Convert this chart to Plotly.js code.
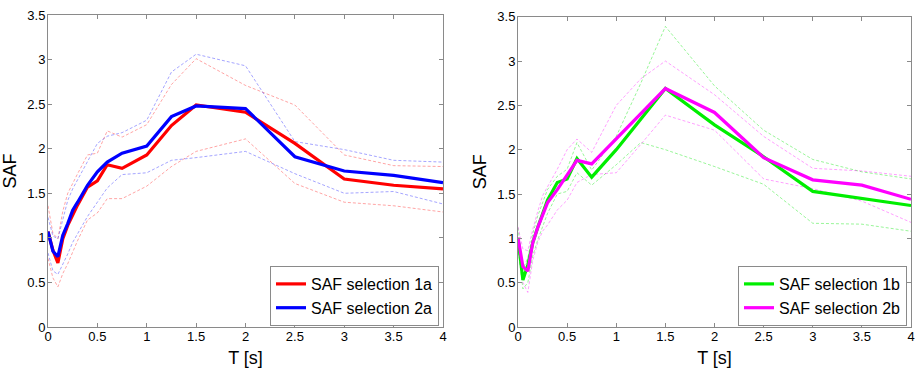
<!DOCTYPE html>
<html>
<head>
<meta charset="utf-8">
<script src="https://cdn.plot.ly/plotly-3.0.1.min.js"></script>
<style>
html,body{margin:0;padding:0;background:#fff;}
#chart{width:916px;height:371px;}
</style>
</head>
<body>
<div id="chart"></div>
<script>
// Periods T [s]
const periods = [0, 0.05, 0.1, 0.15, 0.2, 0.25, 0.3, 0.4, 0.5, 0.6, 0.75, 1, 1.25, 1.5, 2, 2.5, 3, 3.5, 4];

// Left panel
const saf1a      = [1.07, 0.86, 0.72, 0.99, 1.14, 1.25, 1.37, 1.57, 1.64, 1.82, 1.78, 1.93, 2.26, 2.49, 2.41, 2.06, 1.66, 1.59, 1.55];
const saf1aUpper = [1.36, 1.05, 0.99, 1.30, 1.50, 1.62, 1.72, 1.93, 1.95, 2.20, 2.13, 2.27, 2.72, 3.01, 2.71, 2.49, 1.93, 1.81, 1.80];
const saf1aLower = [0.77, 0.55, 0.45, 0.60, 0.71, 0.85, 0.97, 1.20, 1.28, 1.44, 1.44, 1.58, 1.80, 1.97, 2.11, 1.61, 1.40, 1.36, 1.29];
const saf2a      = [1.07, 0.85, 0.79, 1.03, 1.16, 1.31, 1.40, 1.59, 1.74, 1.85, 1.95, 2.03, 2.36, 2.48, 2.45, 1.91, 1.75, 1.70, 1.62];
const saf2aUpper = [1.23, 1.02, 0.99, 1.22, 1.42, 1.55, 1.65, 1.85, 2.06, 2.14, 2.18, 2.32, 2.86, 3.06, 2.93, 2.08, 1.99, 1.87, 1.85];
const saf2aLower = [0.83, 0.63, 0.59, 0.70, 0.82, 0.95, 1.05, 1.24, 1.40, 1.56, 1.71, 1.73, 1.87, 1.90, 1.97, 1.72, 1.50, 1.52, 1.38];

// Right panel
const saf1b      = [1.00, 0.53, 0.70, 0.95, 1.12, 1.28, 1.43, 1.63, 1.67, 1.90, 1.69, 2.00, 2.35, 2.69, 2.28, 1.92, 1.53, 1.45, 1.37];
const saf1bUpper = [1.12, 0.65, 0.78, 1.05, 1.25, 1.40, 1.55, 1.70, 1.78, 2.08, 1.77, 2.15, 2.75, 3.39, 2.72, 2.22, 1.89, 1.75, 1.67];
const saf1bLower = [0.90, 0.43, 0.50, 0.80, 0.98, 1.12, 1.28, 1.50, 1.53, 1.74, 1.60, 1.83, 2.08, 2.00, 1.81, 1.61, 1.17, 1.16, 1.08];
const saf2b      = [1.01, 0.68, 0.63, 0.95, 1.12, 1.27, 1.40, 1.55, 1.72, 1.88, 1.84, 2.12, 2.41, 2.69, 2.42, 1.91, 1.66, 1.60, 1.44];
const saf2bUpper = [1.13, 0.88, 0.86, 1.10, 1.30, 1.48, 1.58, 1.78, 2.00, 2.12, 1.97, 2.50, 2.80, 3.00, 2.62, 2.15, 1.79, 1.76, 1.70];
const saf2bLower = [0.90, 0.50, 0.39, 0.75, 0.95, 1.08, 1.15, 1.32, 1.43, 1.63, 1.72, 1.74, 2.06, 2.39, 2.22, 1.67, 1.56, 1.42, 1.18];

const names = ['SAF selection 1a', 'SAF selection 2a', 'SAF selection 1b', 'SAF selection 2b'];

function band(y, color, xa, ya) {
  return {x: periods, y: y, xaxis: xa, yaxis: ya, type: 'scatter', mode: 'lines',
    line: {color: color, width: 0.9, dash: '3px,2px'}, showlegend: false, hoverinfo: 'skip'};
}
function main(y, color, name, xa, ya, leg) {
  return {x: periods, y: y, xaxis: xa, yaxis: ya, type: 'scatter', mode: 'lines', name: name,
    line: {color: color, width: 3.2}, legend: leg};
}

const data = [
  band(saf1aUpper, 'rgba(255,0,0,0.4)', 'x', 'y'),
  band(saf1aLower, 'rgba(255,0,0,0.4)', 'x', 'y'),
  band(saf2aUpper, 'rgba(0,0,255,0.4)', 'x', 'y'),
  band(saf2aLower, 'rgba(0,0,255,0.4)', 'x', 'y'),
  main(saf1a, '#ff0000', names[0], 'x', 'y', 'legend'),
  main(saf2a, '#0000ff', names[1], 'x', 'y', 'legend'),
  band(saf1bUpper, 'rgba(0,230,0,0.45)', 'x2', 'y2'),
  band(saf1bLower, 'rgba(0,230,0,0.45)', 'x2', 'y2'),
  band(saf2bUpper, 'rgba(255,0,255,0.42)', 'x2', 'y2'),
  band(saf2bLower, 'rgba(255,0,255,0.42)', 'x2', 'y2'),
  main(saf1b, '#00ee00', names[2], 'x2', 'y2', 'legend2'),
  main(saf2b, '#ff00ff', names[3], 'x2', 'y2', 'legend2')
];

const tickFont = {family: 'Liberation Sans, Arial, sans-serif', size: 13, color: '#000'};
const titleFont = {family: 'Liberation Sans, Arial, sans-serif', size: 18, color: '#000'};

function xax(domain, anchor) {
  return {domain: domain, anchor: anchor, range: [0, 4], dtick: 0.5, tick0: 0,
    showgrid: false, zeroline: false, showline: true, mirror: 'allticks',
    linecolor: '#8a8a8a', linewidth: 1, ticks: 'inside', ticklen: 4, tickcolor: '#8a8a8a',
    ticklabelstandoff: -3,
    tickfont: tickFont, title: {text: 'T [s]', font: titleFont, standoff: 8}, automargin: false};
}
function yax(domain, anchor) {
  return {domain: domain, anchor: anchor, range: [0, 3.5], dtick: 0.5, tick0: 0,
    showgrid: false, zeroline: false, showline: true, mirror: 'allticks',
    linecolor: '#8a8a8a', linewidth: 1, ticks: 'inside', ticklen: 4, tickcolor: '#8a8a8a',
    ticklabelstandoff: -1,
    tickfont: tickFont, title: {text: 'SAF', font: titleFont, standoff: 6}, automargin: false};
}

const legendBase = {
  bgcolor: '#ffffff', bordercolor: '#8a8a8a', borderwidth: 1,
  font: {family: 'Liberation Sans, Arial, sans-serif', size: 16, color: '#000'},
  xanchor: 'right', yanchor: 'bottom', tracegroupgap: 0, itemwidth: 30
};

const layout = {
  width: 916, height: 371,
  margin: {l: 0, r: 0, t: 0, b: 0},
  paper_bgcolor: '#ffffff', plot_bgcolor: '#ffffff',
  showlegend: true,
  xaxis: xax([48/916, 443/916], 'y'),
  yaxis: yax([44/371, 356/371], 'x'),
  xaxis2: xax([518/916, 911/916], 'y2'),
  yaxis2: yax([44/371, 354.3/371], 'x2'),
  legend: Object.assign({}, legendBase, {x: 439/916, y: 45/371}),
  legend2: Object.assign({}, legendBase, {x: 907/916, y: 45/371})
};

Plotly.newPlot('chart', data, layout, {staticPlot: true, displayModeBar: false});
</script>
</body>
</html>
